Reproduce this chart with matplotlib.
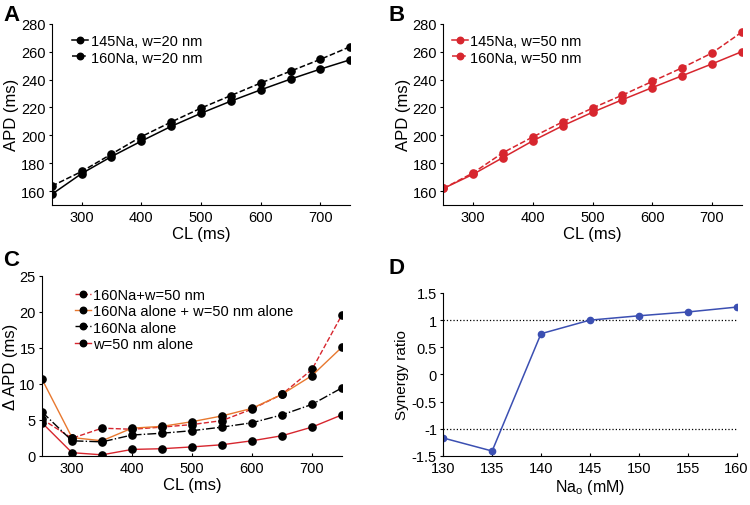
import matplotlib.pyplot as plt

plt.rcParams["font.family"] = ["Liberation Sans", "DejaVu Sans"]

CL = [250, 300, 350, 400, 450, 500, 550, 600, 650, 700, 750]

# panel A (w=20 nm)
a_145 = [157.6, 172.5, 184.7, 195.8, 206.4, 215.8, 224.5, 232.6, 240.3, 247.5, 254.2]
a_160 = [163.5, 174.0, 186.5, 199.0, 209.5, 219.5, 228.5, 237.5, 246.0, 254.5, 263.6]

# panel B (w=50 nm)
b_145 = [161.8, 172.0, 184.0, 196.0, 206.8, 216.5, 225.5, 234.2, 242.7, 251.2, 260.0]
b_160 = [161.8, 173.0, 187.5, 198.8, 209.6, 219.5, 228.8, 238.6, 248.4, 259.0, 274.0]

# panel C (delta APD)
c_combined = [5.1, 2.45, 3.85, 3.7, 4.0, 4.35, 4.9, 6.5, 8.55, 12.0, 19.6]
c_sum = [10.65, 2.55, 2.1, 3.85, 4.1, 4.75, 5.55, 6.6, 8.55, 11.15, 15.1]
c_na = [6.1, 2.1, 1.95, 2.9, 3.15, 3.5, 4.0, 4.6, 5.7, 7.15, 9.45]
c_w = [4.6, 0.45, 0.15, 0.9, 1.0, 1.25, 1.55, 2.1, 2.8, 4.0, 5.7]

# panel D
na_o = [130, 135, 140, 145, 150, 155, 160]
synergy = [-1.17, -1.41, 0.75, 1.0, 1.08, 1.15, 1.24]

RED = "#d7262e"
ORANGE = "#e8782f"
BLUE = "#3b4fb2"

fig = plt.figure(figsize=(7.5, 5.06), dpi=100)
ax_a = fig.add_axes([0.069, 0.593, 0.398, 0.358])
ax_b = fig.add_axes([0.591, 0.593, 0.398, 0.358])
ax_c = fig.add_axes([0.056, 0.097, 0.400, 0.356])
ax_d = fig.add_axes([0.591, 0.097, 0.391, 0.322])

for ax in (ax_a, ax_b, ax_c, ax_d):
    ax.spines["top"].set_visible(False)
    ax.spines["right"].set_visible(False)
    ax.tick_params(axis="both", labelsize=10.5, length=2.5, width=0.8, pad=2)
    ax.tick_params(axis="x", direction="in", length=2.5, pad=4)

leg_kw = dict(frameon=False, fontsize=10.5, handlelength=1.1, handletextpad=0.15,
              labelspacing=0.15, borderaxespad=0.2, markerscale=0.9)

# A
ax_a.plot(CL, a_145, "-", color="black", marker="o", ms=5.2, lw=1.1, label="145Na, w=20 nm")
ax_a.plot(CL, a_160, "--", color="black", marker="o", ms=5.2, lw=1.1, label="160Na, w=20 nm")
ax_a.set_xlim(250, 750)
ax_a.set_ylim(150, 280)
ax_a.set_xticks([300, 400, 500, 600, 700])
ax_a.set_yticks(range(160, 281, 20))
ax_a.set_xlabel("CL (ms)", fontsize=12, labelpad=1)
ax_a.set_ylabel("APD (ms)", fontsize=12, labelpad=1)
ax_a.legend(loc="upper left", bbox_to_anchor=(0.04, 0.99), **leg_kw)

# B
ax_b.plot(CL, b_145, "-", color=RED, marker="o", ms=5.2, lw=1.1, label="145Na, w=50 nm")
ax_b.plot(CL, b_160, "--", color=RED, marker="o", ms=5.2, lw=1.1, label="160Na, w=50 nm")
ax_b.set_xlim(250, 750)
ax_b.set_ylim(150, 280)
ax_b.set_xticks([300, 400, 500, 600, 700])
ax_b.set_yticks(range(160, 281, 20))
ax_b.set_xlabel("CL (ms)", fontsize=12, labelpad=1)
ax_b.set_ylabel("APD (ms)", fontsize=12, labelpad=1)
ax_b.legend(loc="upper left", bbox_to_anchor=(0.0, 0.99), **leg_kw)

# C
mk = dict(marker="o", ms=5.2, mfc="black", mec="black", lw=1.0)
ax_c.plot(CL, c_combined, "--", color=RED, label="160Na+w=50 nm", **mk)
ax_c.plot(CL, c_sum, "-", color=ORANGE, label="160Na alone + w=50 nm alone", **mk)
ax_c.plot(CL, c_na, "-.", color="black", label="160Na alone", **mk)
ax_c.plot(CL, c_w, "-", color=RED, label="w=50 nm alone", **mk)
ax_c.set_xlim(250, 750)
ax_c.set_ylim(0, 25)
ax_c.set_xticks([300, 400, 500, 600, 700])
ax_c.set_yticks(range(0, 26, 5))
ax_c.set_xlabel("CL (ms)", fontsize=12, labelpad=1)
ax_c.set_ylabel("\u0394 APD (ms)", fontsize=12, labelpad=1)
ax_c.legend(loc="upper left", bbox_to_anchor=(0.08, 0.98), **leg_kw)

# D
ax_d.axhline(1, color="black", ls=":", lw=0.9)
ax_d.axhline(-1, color="black", ls=":", lw=0.9)
ax_d.plot(na_o, synergy, "-", color=BLUE, marker="o", ms=4.5, lw=1.1)
ax_d.set_xlim(130, 160)
ax_d.set_ylim(-1.5, 1.5)
ax_d.set_xticks(na_o)
ax_d.set_yticks([-1.5, -1, -0.5, 0, 0.5, 1, 1.5])
ax_d.set_yticklabels(["-1.5", "-1", "-0.5", "0", "0.5", "1", "1.5"])
ax_d.set_xlabel("Na$_\\mathregular{o}$ (mM)", fontsize=11.5, labelpad=1)
ax_d.set_ylabel("Synergy ratio", fontsize=11, labelpad=2)

for label, x, y in (("A", 0.004, 0.99), ("B", 0.518, 0.99), ("C", 0.004, 0.505), ("D", 0.518, 0.49)):
    fig.text(x, y, label, fontsize=16, fontweight="bold", va="top", ha="left")

fig.savefig("out.png", dpi=100)
